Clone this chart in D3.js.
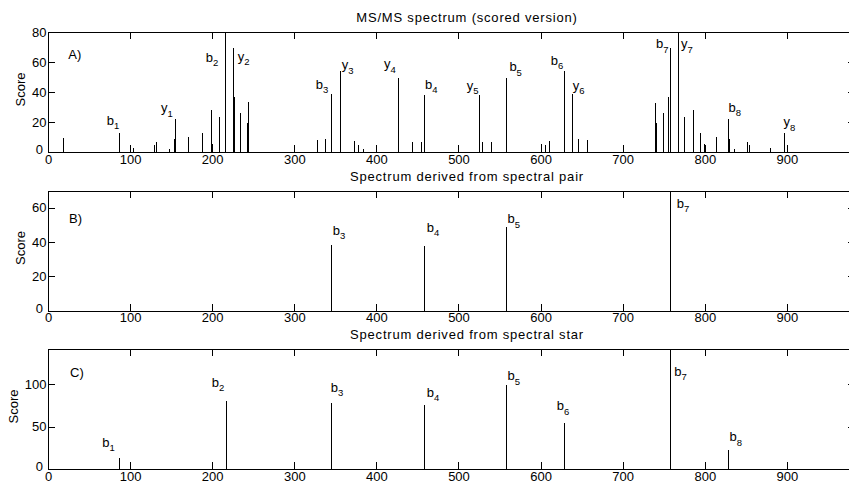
<!DOCTYPE html>
<html>
<head>
<meta charset="utf-8">
<script src="https://cdn.jsdelivr.net/npm/d3@7"></script>
<style>
  html, body { margin: 0; padding: 0; background: #fff; }
  svg { display: block; }
  svg text { font-family: "Liberation Sans", Arial, Helvetica, sans-serif; }
</style>
</head>
<body>
<svg id="chart" width="849" height="484"></svg>
<script>
// ---- shared axis ticks ----
const xTicks = [0, 100, 200, 300, 400, 500, 600, 700, 800, 900];
const yTicksScored = [0, 20, 40, 60, 80];
const yTicksPair = [0, 20, 40, 60];
const yTicksStar = [0, 50, 100];

// ---- A) scored MS/MS spectrum ----
const mzScored = [18, 86.5, 103, 128.7, 131.2, 147, 153.1, 154.7, 170.2, 187.6,
  198.2, 199.8, 208.3, 216, 225.8, 227, 233.5, 242, 243.7, 327.3,
  337.1, 345, 356.2, 372.8, 378.1, 383.4, 426, 443.9, 454, 458,
  525.5, 529.2, 539.7, 557.4, 600.6, 605.5, 610.4, 628.7, 638.4, 646.1,
  656.3, 739.1, 741.1, 749.3, 755.8, 757.5, 767.2, 775.2, 785.4, 794.7,
  799.6, 813.4, 828.2, 829.7, 836.2, 852, 853.6, 880, 896.3];
const scoreScored = [9.5, 12.7, 2.5, 4.8, 6.5, 1.8, 8.7, 22.1, 10.2, 12.7,
  28.2, 5.3, 23.1, 80, 69.2, 36.8, 25.9, 19.2, 33.4, 8,
  8.7, 38.5, 54.2, 7.4, 4.7, 2.2, 49.2, 6.7, 6.5, 37.7,
  37.7, 6.7, 6.7, 49.2, 5.3, 4.4, 7.1, 53.9, 38.5, 8.7,
  7.7, 33, 19.2, 25.9, 36.7, 69.2, 80, 23.3, 28.2, 12.9,
  5.3, 10.2, 22.2, 8.8, 2, 6.5, 4.9, 3, 12.4];
const ionScored = ["b1", "y1", "b2", "y2", "b3", "y3", "y4", "b4", "y5", "b5", "b6", "y6", "b7", "y7", "b8", "y8"];
const ionScoredMz = [71.5, 137.7, 192.1, 231.1, 326.1, 357.8, 409.4, 459.3, 510.1, 562, 612.4, 639.2, 740.7, 771.2, 828.8, 895.8];
const ionScoredScore = [18.2, 26.5, 60.2, 61, 42.2, 55.3, 56, 42.2, 41.5, 53.8, 58.2, 41.5, 69.3, 69.3, 26.7, 17.1];

// ---- B) spectrum derived from spectral pair ----
const mzPair = [345, 458, 557.5, 757.5];
const scorePair = [38.4, 37.5, 48.8, 69.3];
const ionPair = ["b3", "b4", "b5", "b7"];
const ionPairMz = [346.9, 461.4, 559.6, 766];
const ionPairScore = [44.1, 46, 50.9, 59.8];

// ---- C) spectrum derived from spectral star ----
const mzStar = [86.9, 216.3, 345, 458, 557.5, 628.5, 757.5, 828.3];
const scoreStar = [12.9, 80.5, 78, 75.6, 99.2, 54.8, 141.5, 22.7];
const ionStar = ["b1", "b2", "b3", "b4", "b5", "b6", "b7", "b8"];
const ionStarMz = [66.2, 199.4, 344.4, 461.4, 559.6, 619.7, 762.7, 830];
const ionStarScore = [26.2, 96.8, 90.9, 85, 104.7, 69.4, 109.8, 32.9];

const titles = ["MS/MS spectrum (scored version)", "Spectrum derived from spectral pair", "Spectrum derived from spectral star"];
const tags = ["A)", "B)", "C)"];

// ---- layout ----
const plotLeft = 48, plotRight = 855;
const xMax = 983;
const panels = [
  { top: 32, bottom: 152, yMax: 80, yTicks: yTicksScored, mz: mzScored, score: scoreScored,
    ions: ionScored, ionMz: ionScoredMz, ionScore: ionScoredScore, tagMz: 24.7, tagScore: 61.8, ylabelX: 25 },
  { top: 190.5, bottom: 310.5, yMax: 70, yTicks: yTicksPair, mz: mzPair, score: scorePair,
    ions: ionPair, ionMz: ionPairMz, ionScore: ionPairScore, tagMz: 25.6, tagScore: 51.2, ylabelX: 25 },
  { top: 349, bottom: 469, yMax: 141.5, yTicks: yTicksStar, mz: mzStar, score: scoreStar,
    ions: ionStar, ionMz: ionStarMz, ionScore: ionStarScore, tagMz: 26.8, tagScore: 108, ylabelX: 18 }
];

const svg = d3.select("#chart");
const fontSize = 13;
const tickLen = 7;

const x = d3.scaleLinear().domain([0, xMax]).range([plotLeft, plotRight]);

panels.forEach((p, i) => {
  const y = d3.scaleLinear().domain([0, p.yMax]).range([p.bottom, p.top]);
  const g = svg.append("g");

  // stick spectrum
  g.append("g")
    .selectAll("line")
    .data(d3.zip(p.mz, p.score))
    .join("line")
    .attr("x1", d => Math.round(x(d[0])) + 0.5)
    .attr("x2", d => Math.round(x(d[0])) + 0.5)
    .attr("y1", y(0))
    .attr("y2", d => y(d[1]))
    .attr("stroke", "#000")
    .attr("stroke-width", 1)
    .attr("shape-rendering", "crispEdges");

  // axes: inward ticks on all four sides
  const styleAxis = sel => {
    sel.attr("font-family", null).attr("font-size", null);
    sel.select(".domain").remove();
    sel.selectAll(".tick line").attr("stroke", "#000").attr("shape-rendering", "crispEdges");
    sel.selectAll(".tick text").attr("fill", "#000").attr("font-size", fontSize);
  };

  g.append("g")
    .attr("transform", `translate(0,${p.bottom})`)
    .call(d3.axisBottom(x).tickValues(xTicks).tickSize(-tickLen).tickPadding(2.3).tickFormat(d3.format("d")))
    .call(styleAxis);
  g.append("g")
    .attr("transform", `translate(0,${p.top})`)
    .call(d3.axisTop(x).tickValues(xTicks).tickSize(-tickLen).tickFormat(""))
    .call(styleAxis);
  const yl = g.append("g")
    .attr("transform", `translate(${plotLeft},0)`)
    .call(d3.axisLeft(y).tickValues(p.yTicks).tickSize(-tickLen).tickPadding(1.5).tickFormat(d3.format("d")))
    .call(styleAxis);
  yl.selectAll(".tick text").filter(d => d === 0).attr("dx", -3.5).attr("dy", "0.15em");
  g.append("g")
    .attr("transform", `translate(${plotRight},0)`)
    .call(d3.axisRight(y).tickValues(p.yTicks).tickSize(-tickLen).tickFormat(""))
    .call(styleAxis);

  // frame
  g.append("rect")
    .attr("x", plotLeft + 0.5).attr("y", p.top + 0.5)
    .attr("width", plotRight - plotLeft).attr("height", p.bottom - p.top)
    .attr("fill", "none").attr("stroke", "#000").attr("stroke-width", 1)
    .attr("shape-rendering", "crispEdges");

  // ion labels with subscripts
  const lab = g.append("g").selectAll("text")
    .data(d3.zip(p.ions, p.ionMz, p.ionScore))
    .join("text")
    .attr("x", d => x(d[1]))
    .attr("y", d => y(d[2]))
    .attr("font-size", fontSize)
    .attr("fill", "#000");
  lab.append("tspan").text(d => d[0].charAt(0));
  lab.append("tspan").attr("font-size", 9.5).attr("dy", 4.5).text(d => d[0].slice(1));

  // panel tag
  g.append("text")
    .attr("x", x(p.tagMz)).attr("y", y(p.tagScore))
    .attr("font-size", fontSize).attr("fill", "#000")
    .text(tags[i]);

  // title
  g.append("text")
    .attr("x", 467).attr("y", p.top - 9.6)
    .attr("text-anchor", "middle")
    .attr("font-size", fontSize).attr("letter-spacing", 0.8).attr("fill", "#000")
    .text(titles[i]);

  // y label
  g.append("text")
    .attr("transform", `translate(${p.ylabelX},${(p.top + p.bottom) / 2 - 2.5}) rotate(-90)`)
    .attr("text-anchor", "middle")
    .attr("font-size", fontSize).attr("fill", "#000")
    .text("Score");
});
</script>
</body>
</html>
